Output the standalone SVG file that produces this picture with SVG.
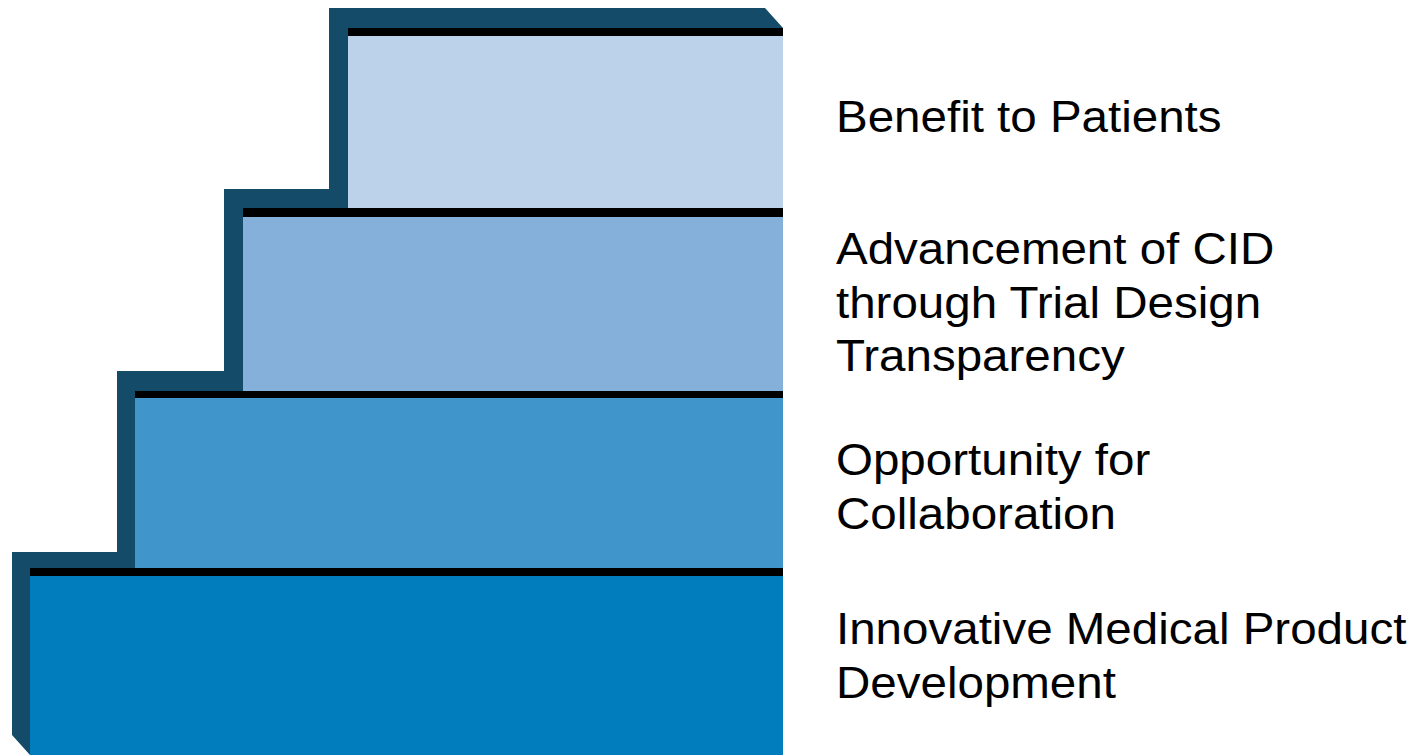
<svg xmlns="http://www.w3.org/2000/svg" width="1419" height="755" viewBox="0 0 1419 755">
<style>
.side{fill:#134B69}
.edge{fill:#000}
.lbl{font-family:"Liberation Sans",Arial,sans-serif;font-size:44px;fill:#000}
</style>
<rect width="1419" height="755" fill="#fff"/>
<g id="stairs-back">
<path class="side" d="M329,8 L765,8 L783,28 L783,755 L30,755 L12,735 L12,552 L117,552 L117,371 L224,371 L224,189 L329,189 Z"/>
</g>
<g id="step-benefit">
<rect class="edge" x="348" y="28" width="435" height="8"/>
<rect x="348" y="36" width="435" height="172" fill="#BBD2EA"/>
</g>
<g id="step-advancement">
<rect class="edge" x="243" y="208" width="540" height="9"/>
<rect x="243" y="217" width="540" height="174" fill="#84B0DA"/>
</g>
<g id="step-opportunity">
<rect class="edge" x="135" y="391" width="648" height="7"/>
<rect x="135" y="398" width="648" height="170" fill="#4095CB"/>
</g>
<g id="step-innovative">
<rect class="edge" x="30" y="568" width="753" height="8"/>
<rect x="30" y="576" width="753" height="179" fill="#017DBD"/>
</g>
<g id="labels" transform="translate(836,0) scale(1.08,1)">
<text class="lbl" x="0" y="132">Benefit to Patients</text>
<text class="lbl" x="0" y="264">Advancement of CID</text>
<text class="lbl" x="0" y="318">through Trial Design</text>
<text class="lbl" x="0" y="371">Transparency</text>
<text class="lbl" x="0" y="475">Opportunity for</text>
<text class="lbl" x="0" y="529">Collaboration</text>
<text class="lbl" x="0" y="644">Innovative Medical Product</text>
<text class="lbl" x="0" y="698">Development</text>
</g>
</svg>
